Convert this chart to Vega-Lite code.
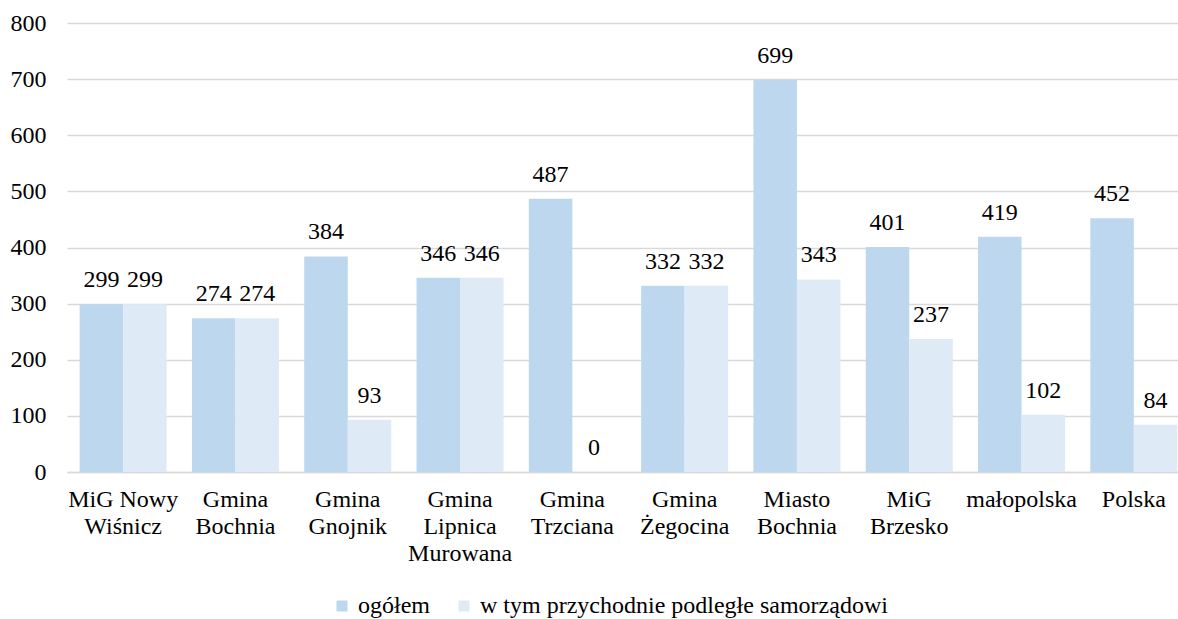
{
  "$schema": "https://vega.github.io/schema/vega-lite/v6.json",
  "width": 1123,
  "height": 449,
  "autosize": {"type": "none"},
  "padding": {"left": 67, "top": 23, "right": 0, "bottom": 147},
  "background": "white",
  "config": {"view": {"stroke": null}, "font": "Liberation Serif, Times New Roman, serif"},
  "data": {
    "values": [
      {"gmina": "MiG Nowy|Wiśnicz", "seria": "ogółem", "wartosc": 299},
      {"gmina": "MiG Nowy|Wiśnicz", "seria": "w tym przychodnie podległe samorządowi", "wartosc": 299},
      {"gmina": "Gmina|Bochnia", "seria": "ogółem", "wartosc": 274},
      {"gmina": "Gmina|Bochnia", "seria": "w tym przychodnie podległe samorządowi", "wartosc": 274},
      {"gmina": "Gmina|Gnojnik", "seria": "ogółem", "wartosc": 384},
      {"gmina": "Gmina|Gnojnik", "seria": "w tym przychodnie podległe samorządowi", "wartosc": 93},
      {"gmina": "Gmina|Lipnica|Murowana", "seria": "ogółem", "wartosc": 346},
      {"gmina": "Gmina|Lipnica|Murowana", "seria": "w tym przychodnie podległe samorządowi", "wartosc": 346},
      {"gmina": "Gmina|Trzciana", "seria": "ogółem", "wartosc": 487},
      {"gmina": "Gmina|Trzciana", "seria": "w tym przychodnie podległe samorządowi", "wartosc": 0},
      {"gmina": "Gmina|Żegocina", "seria": "ogółem", "wartosc": 332},
      {"gmina": "Gmina|Żegocina", "seria": "w tym przychodnie podległe samorządowi", "wartosc": 332},
      {"gmina": "Miasto|Bochnia", "seria": "ogółem", "wartosc": 699},
      {"gmina": "Miasto|Bochnia", "seria": "w tym przychodnie podległe samorządowi", "wartosc": 343},
      {"gmina": "MiG|Brzesko", "seria": "ogółem", "wartosc": 401},
      {"gmina": "MiG|Brzesko", "seria": "w tym przychodnie podległe samorządowi", "wartosc": 237},
      {"gmina": "małopolska", "seria": "ogółem", "wartosc": 419},
      {"gmina": "małopolska", "seria": "w tym przychodnie podległe samorządowi", "wartosc": 102},
      {"gmina": "Polska", "seria": "ogółem", "wartosc": 452},
      {"gmina": "Polska", "seria": "w tym przychodnie podległe samorządowi", "wartosc": 84}
    ]
  },
  "encoding": {
    "x": {
      "field": "gmina",
      "type": "nominal",
      "sort": null,
      "scale": {"paddingInner": 0.225, "paddingOuter": 0.1125},
      "axis": {
        "title": null,
        "labelAngle": 0,
        "labelExpr": "split(datum.label, '|')",
        "labelFont": "Liberation Serif, Times New Roman, serif",
        "labelFontSize": 24,
        "labelColor": "#000000",
        "labelLineHeight": 27,
        "labelBaseline": "top",
        "labelPadding": 15,
        "labelOverlap": false,
        "labelLimit": 300,
        "ticks": false,
        "domainColor": "#d9d9d9",
        "domainWidth": 1.5
      }
    },
    "xOffset": {
      "field": "seria",
      "sort": ["ogółem", "w tym przychodnie podległe samorządowi"],
      "scale": {"paddingInner": 0, "paddingOuter": 0}
    },
    "y": {
      "field": "wartosc",
      "type": "quantitative",
      "scale": {"domain": [0, 800], "nice": false},
      "axis": {
        "title": null,
        "values": [0, 100, 200, 300, 400, 500, 600, 700, 800],
        "grid": true,
        "gridColor": "#d9d9d9",
        "gridWidth": 1.5,
        "domain": false,
        "ticks": false,
        "labelPadding": 21,
        "labelFont": "Liberation Serif, Times New Roman, serif",
        "labelFontSize": 24,
        "labelColor": "#000000"
      }
    }
  },
  "layer": [
    {
      "mark": {"type": "bar"},
      "encoding": {
        "color": {
          "field": "seria",
          "type": "nominal",
          "scale": {
            "domain": ["ogółem", "w tym przychodnie podległe samorządowi"],
            "range": ["#BDD7EE", "#DEEBF7"]
          },
          "legend": {
            "title": null,
            "orient": "none",
            "direction": "horizontal",
            "legendX": 263,
            "legendY": 571,
            "symbolType": "square",
            "symbolSize": 121,
            "symbolStrokeWidth": 0,
            "symbolOpacity": 1,
            "labelFont": "Liberation Serif, Times New Roman, serif",
            "labelFontSize": 24,
            "labelColor": "#000000",
            "labelOffset": 4,
            "columnPadding": 22,
            "labelLimit": 500
          }
        }
      }
    },
    {
      "mark": {
        "type": "text",
        "baseline": "alphabetic",
        "dy": -17,
        "fontSize": 24,
        "font": "Liberation Serif, Times New Roman, serif",
        "color": "#000000"
      },
      "encoding": {"text": {"field": "wartosc", "type": "quantitative"}}
    }
  ]
}
